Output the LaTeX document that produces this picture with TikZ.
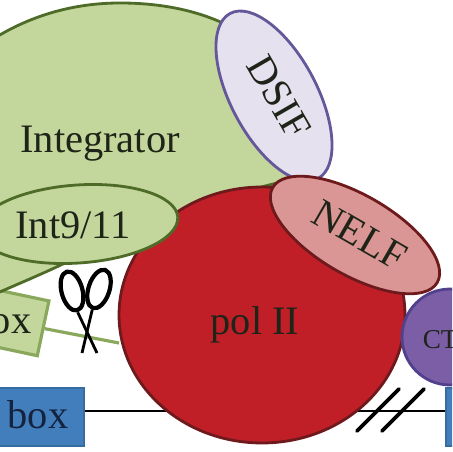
\documentclass[tikz,border=0pt]{standalone}
\usepackage{fontspec}
\setmainfont{Liberation Serif}
\usetikzlibrary{shapes.geometric}
\definecolor{intfill}{HTML}{C3D69B}
\definecolor{intline}{HTML}{4F6B28}
\definecolor{boxline}{HTML}{8AA85C}
\definecolor{polfill}{HTML}{C01F28}
\definecolor{polline}{HTML}{6E1A1C}
\definecolor{nelffill}{HTML}{D99694}
\definecolor{dsiffill}{HTML}{E6E1EE}
\definecolor{dsifline}{HTML}{64589A}
\definecolor{ctdfill}{HTML}{7C5EA6}
\definecolor{ctdline}{HTML}{51408C}
\definecolor{bluefill}{HTML}{437EBC}
\definecolor{blueline}{HTML}{366C9F}
\definecolor{inktext}{HTML}{1E2418}
\definecolor{navytext}{HTML}{14233F}
\begin{document}
\begin{tikzpicture}[
    x=0.02cm, y=-0.02cm,
    txt/.style={font=\fontsize{23}{23}\selectfont, text=inktext, inner sep=0pt},
    oval/.style={draw, ellipse, line width=1.6pt, inner sep=0pt},
    loopring/.style={draw=black, ellipse, line width=2.4pt, inner sep=0pt,
                     minimum width=0.42cm, minimum height=0.80cm},
    blade/.style={draw=black, line width=1.6pt},
    hash/.style={draw=black, line width=2.2pt, line cap=round},
]
\useasboundingbox (0,0) rectangle (452,452);
\clip (0,0) rectangle (452,452);
% connectors under the shapes
\node[draw=blueline, fill=bluefill, line width=1.3pt, minimum width=1.84cm, minimum height=1.16cm] (leftBox) at (38,417) {};
\node[txt, text=navytext] (leftLabel) at (38,415) {box};
\node[draw=blueline, fill=bluefill, line width=1.3pt, minimum width=1.2cm, minimum height=1.16cm]
      (rightBox) at (476,417) {};
\draw[line width=1.5pt] (leftBox.east |- 0,411) -- (rightBox.west |- 0,411);
\node[draw=boxline, fill=intfill, line width=1.8pt, minimum width=1.6cm, minimum height=1.12cm,
      rotate=-12] (greenBox) at (4,320) {};
\node[txt] (greenLabel) at (1,320) {box};
\coordinate (polEdge) at (119,343);
\draw[boxline, line width=1.8pt] (greenBox.east) -- (polEdge);
% scissors
\node[loopring, rotate=15] (ringL) at (72,291) {};
\node[loopring, rotate=-18] (ringR) at (99,289) {};
\coordinate (tipL) at (82,353);
\coordinate (tipR) at (97,353);
\draw[blade] (ringL.south) -- (tipR);
\draw[blade] (ringR.south) -- (tipL);
% complexes
\draw[intline, fill=intfill, line width=1.6pt] (-30,55) .. controls (-10,40) and (40,3) .. (120,3)
    .. controls (160,3) and (195,10) .. (225,24)
    .. controls (260,60) and (285,130) .. (290,180)
    .. controls (200,200) and (130,235) .. (65,263)
    .. controls (40,275) and (20,283) .. (-30,305) -- cycle;
\node[oval, draw=polline, fill=polfill, minimum width=5.72cm, minimum height=5.12cm] (polII) at (262,315) {};
\node[txt] (polLabel) at (255,325) {pol II};
\node[txt] (integrator) at (100,144) {Integrator};
\node[oval, draw=dsifline, fill=dsiffill, rotate=-62, minimum width=3.74cm, minimum height=1.72cm] (dsif) at (274,96) {};
\node[txt, rotate=-60] (dsifLabel) at (279,97) {DSIF};
\node[oval, draw=polline, fill=nelffill, rotate=-30, minimum width=3.8cm, minimum height=1.6cm] (nelf) at (355,235) {};
\node[txt, rotate=-30] (nelfLabel) at (360,235) {NELF};
\node[oval, draw=intline, fill=intfill, rotate=4, minimum width=4cm, minimum height=1.56cm] (int911) at (78,224) {};
\node[txt] (intLabel) at (73,225) {Int9/11};
\node[oval, draw=ctdline, fill=ctdfill, minimum width=1.92cm, minimum height=1.92cm] (ctd) at (450,337) {};
\node[txt, font=\fontsize{15.5}{16}\selectfont] (ctdLabel) at (450,340) {CTD};
% break marks
\coordinate (hashA) at (357,431);
\coordinate (hashB) at (399,389);
\coordinate (hashC) at (382,431);
\coordinate (hashD) at (424,389);
\draw[hash] (hashA) -- (hashB);
\draw[hash] (hashC) -- (hashD);
\end{tikzpicture}
\end{document}
